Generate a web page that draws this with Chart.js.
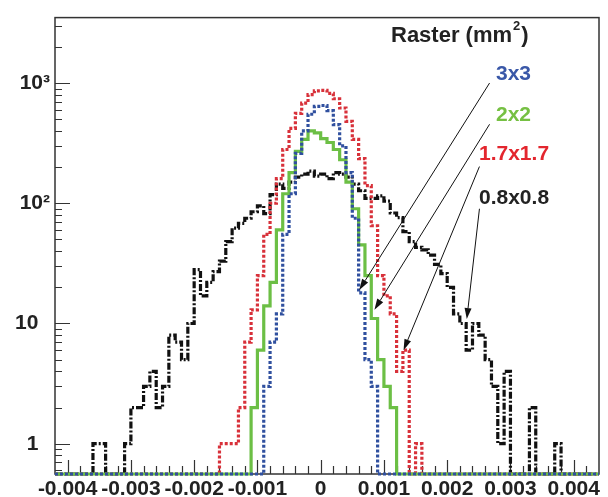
<!DOCTYPE html>
<html><head><meta charset="utf-8">
<script src="https://cdn.jsdelivr.net/npm/chart.js@4"></script>
<style>html,body{margin:0;padding:0;background:#fff}#wrap{width:608px;height:497px}canvas{display:block}</style>
</head><body>
<div id="wrap"><canvas id="c" width="608" height="497" style="width:608px;height:497px"></canvas></div>
<script>
// ---- axis ranges / binning ----
const X_MIN = -0.0042, X_MAX = 0.0044, BIN_W = 0.0001;
const Y_MIN = 0.56, Y_MAX = 3500;
const xTickValues = [-0.004, -0.003, -0.002, -0.001, 0, 0.001, 0.002, 0.003, 0.004];
const xTickLabels = ['-0.004', '-0.003', '-0.002', '-0.001', '0', '0.001', '0.002', '0.003', '0.004'];
const yTickValues = [1, 10, 100, 1000];
const yTickLabels = ['1  ', '10  ', '10\u00B2', '10\u00B3'];

// ---- histogram contents (86 bins of 0.0001 from -0.0042) ----
const raster08 = [0,0,0,0,0,0,1,1,0,0, 0,1,2,2,3,4,2,3,8,7, 5,10,28,17,22,27,33,48,62,68, 75,85,95,82,118,144,133,150,165,175, 185,168,175,160,180,175,165,144,127,110, 110,115,104,83,76,58,48,43,41,37, 31,26,20,12,10,6,10,8,5,3, 1,4,0,0,0,2,0,0,0,1, 0,0,0,0,0,0];
const raster17 = [0,0,0,0,0,0,0,0,0,0, 0,0,0,0,0,0,0,0,0,0, 0,0,0,0,0,0,1,1,1,2, 7,13,25,55,100,160,280,420,560,680, 800,860,870,820,740,620,480,340,235,140, 65,25,17,12,4,6,0,1,0,0, 0,0,0,0,0,0,0,0,0,0, 0,0,0,0,0,0,0,0,0,0, 0,0,0,0,0,0];
const raster2 = [0,0,0,0,0,0,0,0,0,0, 0,0,0,0,0,0,0,0,0,0, 0,0,0,0,0,0,0,0,0,0, 0,2,6,14,22,60,120,180,270,340, 400,385,345,320,280,230,150,90,45,25, 11,5,3,2,0,0,0,0,0,0, 0,0,0,0,0,0,0,0,0,0, 0,0,0,0,0,0,0,0,0,0, 0,0,0,0,0,0];
const raster3 = [0,0,0,0,0,0,0,0,0,0, 0,0,0,0,0,0,0,0,0,0, 0,0,0,0,0,0,0,0,0,0, 0,0,0,3,7,12,55,120,260,400, 550,640,650,590,450,300,180,75,18,5, 3,0,0,0,0,0,0,0,0,0, 0,0,0,0,0,0,0,0,0,0, 0,0,0,0,0,0,0,0,0,0, 0,0,0,0,0,0];

// annotation arrows: [fromX, fromY, toX, toY] in data units
const arrows = [
  [0.00267, 1000, 0.00061, 19],
  [0.00267, 454, 0.00085, 13],
  [0.00251, 202, 0.00131, 6],
  [0.00251, 90, 0.00231, 10.9]
];

function steps(counts) {
  const pts = counts.map((v, i) => ({ x: X_MIN + i * BIN_W, y: v > 0 ? v : Y_MIN }));
  const last = counts[counts.length - 1];
  pts.push({ x: X_MIN + counts.length * BIN_W, y: last > 0 ? last : Y_MIN });
  return pts;
}

const COL = { blue: '#30509f', green: '#6cbf45', red: '#d8313a', black: '#111111' };
const AX = '#333333';

function ds(label, counts, color, dash) {
  return { label, data: steps(counts), borderColor: color, borderWidth: 3.2, borderDash: dash,
           pointRadius: 0, fill: false, stepped: true, tension: 0, clip: 3 };
}

const framePlugin = {
  id: 'frame',
  beforeDatasetsDraw(chart) {
    const { ctx, chartArea: a, scales: { x, y } } = chart;
    ctx.save();
    ctx.strokeStyle = AX; ctx.lineWidth = 1.5;
    ctx.strokeRect(a.left, a.top, a.right - a.left, a.bottom - a.top);
    ctx.lineWidth = 1.2;
    ctx.beginPath();
    for (let d = 0.1; d <= 1000; d *= 10) {
      for (let m = 1; m <= 9; m++) {
        const v = m * d;
        if (v < Y_MIN || v > Y_MAX) continue;
        const py = Math.round(y.getPixelForValue(v)) + 0.5;
        const len = m === 1 ? 15 : 7;
        ctx.moveTo(a.left, py); ctx.lineTo(a.left + len, py);
      }
    }
    for (let k = -21; k <= 22; k++) {
      const v = k * 0.0002;
      const px = Math.round(x.getPixelForValue(v)) + 0.5;
      if (px <= a.left + 1 || px >= a.right - 1) continue;
      const len = (k % 5 === 0) ? 14 : 8;
      ctx.moveTo(px, a.bottom); ctx.lineTo(px, a.bottom - len);
    }
    ctx.stroke();
    ctx.restore();
  },
  afterDatasetsDraw(chart) {
    const { ctx, scales: { x, y } } = chart;
    ctx.save();
    ctx.strokeStyle = '#111'; ctx.fillStyle = '#111'; ctx.lineWidth = 1;
    arrows.forEach(([fx, fy, tx, ty]) => {
      const x1 = x.getPixelForValue(fx), y1 = y.getPixelForValue(fy);
      const x2 = x.getPixelForValue(tx), y2 = y.getPixelForValue(ty);
      const ang = Math.atan2(y2 - y1, x2 - x1);
      const L = 11, W = 3.5;
      const bx = x2 - L * Math.cos(ang), by = y2 - L * Math.sin(ang);
      ctx.beginPath(); ctx.moveTo(x1, y1); ctx.lineTo(bx, by); ctx.stroke();
      ctx.beginPath();
      ctx.moveTo(x2, y2);
      ctx.lineTo(bx + W * Math.sin(ang), by - W * Math.cos(ang));
      ctx.lineTo(bx - W * Math.sin(ang), by + W * Math.cos(ang));
      ctx.closePath(); ctx.fill();
    });
    const F = '"Liberation Sans", Arial, sans-serif';
    ctx.textBaseline = 'alphabetic'; ctx.textAlign = 'left';
    ctx.fillStyle = '#222';
    ctx.font = 'bold 22px ' + F;
    const t1 = 'Raster (mm';
    ctx.fillText(t1, 391, 42);
    const w1 = ctx.measureText(t1).width;
    ctx.font = 'bold 13px ' + F;
    ctx.fillText('2', 391 + w1 + 1, 30);
    const w2 = ctx.measureText('2').width;
    ctx.font = 'bold 22px ' + F;
    ctx.fillText(')', 391 + w1 + w2 + 2, 42);
    ctx.font = 'bold 21px ' + F;
    ctx.fillStyle = '#3a58a8'; ctx.fillText('3x3', 496, 80);
    ctx.fillStyle = '#76c043'; ctx.fillText('2x2', 496, 121);
    ctx.fillStyle = '#e3262e'; ctx.fillText('1.7x1.7', 479, 160);
    ctx.fillStyle = '#222'; ctx.fillText('0.8x0.8', 479, 204);
    ctx.restore();
  }
};

const tickFont = { family: '"Liberation Sans Narrow", "Liberation Sans", Arial, sans-serif', size: 21, weight: 'bold' };

new Chart(document.getElementById('c'), {
  type: 'line',
  data: { datasets: [
    ds('3x3', raster3, COL.blue, [3, 2]),
    ds('2x2', raster2, COL.green, []),
    ds('1.7x1.7', raster17, COL.red, [3, 2]),
    ds('0.8x0.8', raster08, COL.black, [7, 2, 2, 2])
  ]},
  options: {
    responsive: false, animation: false, devicePixelRatio: 1,
    layout: { padding: { top: 7, right: 9, left: 0, bottom: 0 } },
    plugins: { legend: { display: false }, tooltip: { enabled: false } },
    scales: {
      x: {
        type: 'linear', min: X_MIN, max: X_MAX,
        grid: { display: false, drawTicks: false, tickLength: 0 }, border: { display: false },
        afterBuildTicks: s => { s.ticks = xTickValues.map(v => ({ value: v })); },
        afterFit: s => { s.height = 23; },
        ticks: { autoSkip: false, maxRotation: 0, padding: 3, color: '#222', font: tickFont,
                 callback: (v) => xTickLabels[xTickValues.findIndex(t => Math.abs(t - v) < 1e-9)] }
      },
      y: {
        type: 'logarithmic', min: Y_MIN, max: Y_MAX,
        grid: { display: false, drawTicks: false, tickLength: 0 }, border: { display: false },
        afterBuildTicks: s => { s.ticks = yTickValues.map(v => ({ value: v })); },
        afterFit: s => { s.width = 55; },
        ticks: { autoSkip: false, padding: 5, color: '#222', font: tickFont,
                 callback: (v) => yTickLabels[yTickValues.indexOf(v)] }
      }
    }
  },
  plugins: [framePlugin]
});
</script>
</body></html>
